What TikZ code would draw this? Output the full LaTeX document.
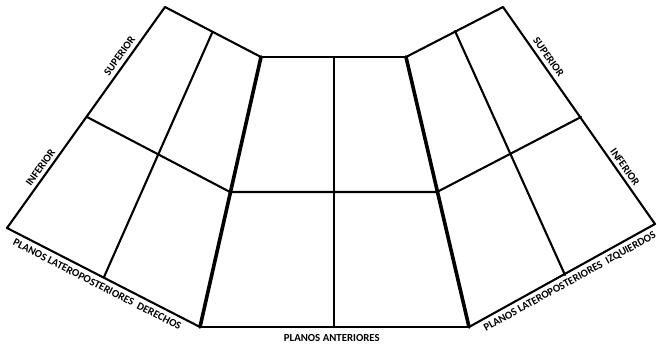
\documentclass[tikz,border=0pt]{standalone}
\usepackage{fontspec}
\setmainfont{Carlito}
\begin{document}
\begin{tikzpicture}[x=1pt,y=-1pt,
  edge/.style={line width=2.1pt, line join=round, line cap=round},
  thick edge/.style={line width=3.6pt, line cap=round},
  lbl/.style={font=\fontsize{10.8}{12}\selectfont\bfseries, inner sep=1.2pt}]
\useasboundingbox (0,0) rectangle (657,351);
% left panel
\coordinate (LTL) at (165,7);
\coordinate (LBL) at (7,228);
\coordinate (LM1) at (87,117);
\coordinate (LD1) at (212,33);
\coordinate (LD2) at (104,277);
% center panel
\coordinate (CTL) at (261,57);
\coordinate (CTR) at (406,57);
\coordinate (CBL) at (200,327);
\coordinate (CBR) at (469,327);
\coordinate (CML) at (230,192);
\coordinate (CMR) at (437,192);
\coordinate (CDT) at (334,57);
\coordinate (CDB) at (334,327);
% right panel
\coordinate (RTR) at (503,7);
\coordinate (RBR) at (655,224);
\coordinate (RM1) at (581,117);
\coordinate (RD1) at (455,31);
\coordinate (RD2) at (565,275);
% outlines
\draw[edge] (CTL) -- (LTL) -- (LBL) -- (CBL);
\draw[edge] (CTR) -- (RTR) -- (RBR) -- (CBR);
\draw[edge] (CTL) -- (CTR);
\draw[edge] (CBL) -- (CBR);
\draw[thick edge] (CTL) -- (CBL);
\draw[thick edge] (CTR) -- (CBR);
% dividers
\draw[edge] (LM1) -- (CML) -- (CMR) -- (RM1);
\draw[edge] (LD1) -- (LD2);
\draw[edge] (RD1) -- (RD2);
\draw[edge] (CDT) -- (CDB);
% labels
\path (LBL) -- (LTL)
  node[lbl, sloped, above=3pt, pos=0.253] (linf) {INFERIOR}
  node[lbl, sloped, above=3.5pt, pos=0.756] (lsup) {SUPERIOR};
\path (RTR) -- (RBR)
  node[lbl, sloped, above=3.5pt, pos=0.254] (rsup) {SUPERIOR}
  node[lbl, sloped, above=3pt, pos=0.759] (rinf) {INFERIOR};
\path (LBL) -- (CBL)
  node[lbl, sloped, below=4pt, pos=0.489] (lbot) {PLANOS LATEROPOSTERIORES\ \ DERECHOS};
\path (CBR) -- (RBR)
  node[lbl, sloped, below=4pt, pos=0.518] (rbot) {PLANOS LATEROPOSTERIORES\ \ IZQUIERDOS};
\path (CBL) -- (CBR)
  node[lbl, below=6pt, pos=0.49] (cbot) {PLANOS ANTERIORES};
\end{tikzpicture}
\end{document}
